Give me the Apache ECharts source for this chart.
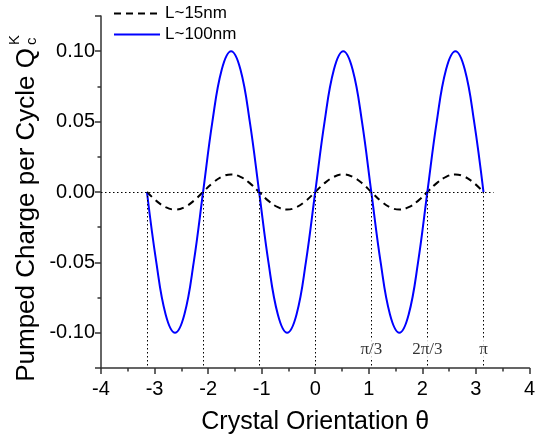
<html>
<head>
<meta charset="utf-8">
<script src="https://cdn.jsdelivr.net/npm/echarts@6/dist/echarts.min.js"></script>
<style>
    body { margin: 0; padding: 0; background: #fff; }
    #content { width: 538px; height: 441px; }
</style>
</head>
<body>
<div id="content"></div>
<script type="text/javascript">
    // crystal orientation, 10 degree steps from -pi to pi
    var thetaVals = [-3.142, -2.967, -2.793, -2.618, -2.443, -2.269, -2.094, -1.920, -1.745,
        -1.571, -1.396, -1.222, -1.047, -0.873, -0.698, -0.524, -0.349, -0.175, 0,
        0.175, 0.349, 0.524, 0.698, 0.873, 1.047, 1.222, 1.396, 1.571, 1.745,
        1.920, 2.094, 2.269, 2.443, 2.618, 2.793, 2.967, 3.142];
    var q15 = [0, -0.0063, -0.0108, -0.0125, -0.0108, -0.0063, 0, 0.0063, 0.0108,
        0.0125, 0.0108, 0.0063, 0, -0.0063, -0.0108, -0.0125, -0.0108, -0.0063, 0,
        0.0063, 0.0108, 0.0125, 0.0108, 0.0063, 0, -0.0063, -0.0108, -0.0125, -0.0108,
        -0.0063, 0, 0.0063, 0.0108, 0.0125, 0.0108, 0.0063, 0];
    var q100 = [0, -0.05, -0.087, -0.1, -0.087, -0.05, 0, 0.05, 0.087,
        0.1, 0.087, 0.05, 0, -0.05, -0.087, -0.1, -0.087, -0.05, 0,
        0.05, 0.087, 0.1, 0.087, 0.05, 0, -0.05, -0.087, -0.1, -0.087,
        -0.05, 0, 0.05, 0.087, 0.1, 0.087, 0.05, 0];
    var seriesNames = ['L~15nm', 'L~100nm'];
    // dotted guide lines
    var guideX = [-3.142, -2.094, -1.047, 0, 1.047, 2.094, 3.142];
    var zeroLineEnd = 3.33;
    var markNames = ['π/3', '2π/3', 'π'];
    var markX = [1.047, 2.094, 3.142];
    var markY = -0.1117;

    var yMin = -0.125, yMax = 0.125;

    function pairs(xs, ys) {
        var out = [];
        for (var c = 0; c < xs.length; c++) out.push([xs[c], ys[c]]);
        return out;
    }

    var guideLines = [[{ coord: [-4, 0] }, { coord: [zeroLineEnd, 0] }]];
    for (var c = 0; c < guideX.length; c++) {
        guideLines.push([{ coord: [guideX[c], 0] }, { coord: [guideX[c], yMin] }]);
    }
    var markData = [];
    for (var c = 0; c < markX.length; c++) {
        markData.push({ value: [markX[c], markY], name: markNames[c] });
    }

    var chart = echarts.init(document.getElementById('content'));
    var font = '"Liberation Sans", Arial, sans-serif';
    var axisColor = '#333';

    var option = {
        animation: false,
        textStyle: { fontFamily: font },
        grid: { left: 101, right: 5, top: 16, bottom: 73 },
        legend: {
            orient: 'vertical',
            left: 108,
            top: 0,
            itemWidth: 46,
            itemHeight: 14,
            itemGap: 4,
            data: seriesNames,
            itemStyle: { color: 'transparent', borderWidth: 0 },
            textStyle: { fontSize: 17, color: '#000', fontFamily: font }
        },
        xAxis: {
            type: 'value',
            min: -4,
            max: 4,
            interval: 1,
            name: 'Crystal Orientation θ',
            nameLocation: 'middle',
            nameGap: 42,
            nameTextStyle: { fontSize: 25, color: '#000', fontFamily: font },
            axisLine: { onZero: false, lineStyle: { color: axisColor, width: 1.5 } },
            axisTick: { length: 6, lineStyle: { color: axisColor, width: 1.5 } },
            minorTick: { show: true, splitNumber: 2, length: 3.5, lineStyle: { color: axisColor, width: 1.5 } },
            axisLabel: { fontSize: 20, color: '#000', margin: 11, fontFamily: font },
            splitLine: { show: false }
        },
        yAxis: {
            type: 'value',
            min: yMin,
            max: yMax,
            splitNumber: 5,
            axisLine: { show: true, onZero: false, lineStyle: { color: axisColor, width: 1.5 } },
            axisTick: { show: true, length: 6, lineStyle: { color: axisColor, width: 1.5 } },
            minorTick: { show: true, splitNumber: 2, length: 3.5, lineStyle: { color: axisColor, width: 1.5 } },
            axisLabel: {
                fontSize: 20, color: '#000', margin: 6, fontFamily: font,
                showMinLabel: false, showMaxLabel: false,
                formatter: function (v) { return v.toFixed(2); }
            },
            splitLine: { show: false }
        },
        graphic: [{
            type: 'text',
            x: 27, y: 48,
            rotation: Math.PI / 2,
            style: {
                text: 'Pumped Charge per Cycle Q',
                fontSize: 26, fontFamily: font, fill: '#000',
                align: 'right', verticalAlign: 'middle'
            }
        }, {
            type: 'text',
            x: 15, y: 45,
            rotation: Math.PI / 2,
            style: {
                text: 'K',
                fontSize: 15, fontFamily: font, fill: '#000',
                align: 'left', verticalAlign: 'middle'
            }
        }, {
            type: 'text',
            x: 32, y: 45,
            rotation: Math.PI / 2,
            style: {
                text: 'c',
                fontSize: 15, fontFamily: font, fill: '#000',
                align: 'left', verticalAlign: 'middle'
            }
        }],
        series: [{
            name: 'guides',
            type: 'line',
            data: [],
            silent: true,
            markLine: {
                silent: true,
                symbol: 'none',
                label: { show: false },
                lineStyle: { color: '#000', width: 1, type: [1.5, 2.5] },
                data: guideLines
            }
        }, {
            name: seriesNames[0],
            type: 'line',
            data: pairs(thetaVals, q15),
            smooth: 0.4,
            symbol: 'none',
            lineStyle: { color: '#000', width: 2, type: [7, 5] },
            itemStyle: { color: '#000' }
        }, {
            name: seriesNames[1],
            type: 'line',
            data: pairs(thetaVals, q100),
            smooth: 0.4,
            symbol: 'none',
            lineStyle: { color: '#0000ff', width: 2 },
            itemStyle: { color: '#0000ff' }
        }, {
            name: 'marks',
            type: 'scatter',
            data: markData,
            symbolSize: 0,
            silent: true,
            z: 5,
            label: {
                show: true,
                position: 'inside',
                formatter: '{b}',
                fontFamily: '"Liberation Serif", "Times New Roman", serif',
                fontSize: 17,
                color: '#000',
                backgroundColor: '#fff',
                padding: [1, 2]
            }
        }]
    };
    chart.setOption(option);
</script>
</body>
</html>
